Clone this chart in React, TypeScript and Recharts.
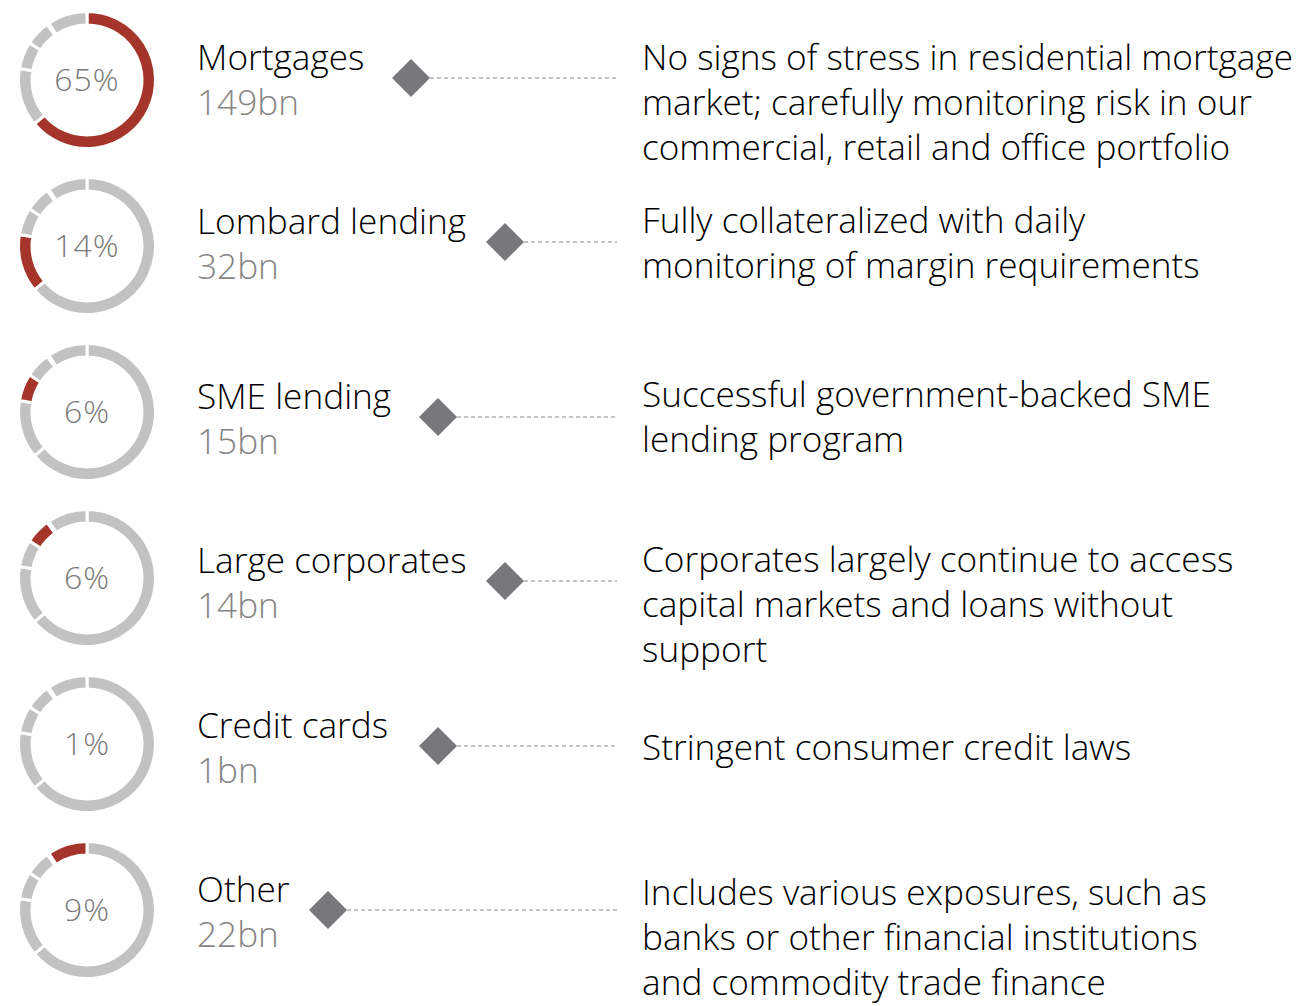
import React from 'react';
import { PieChart, Pie, Cell, Customized } from 'recharts';

const categories = ['Mortgages', 'Lombard lending', 'SME lending', 'Large corporates', 'Credit cards', 'Other'];
const amountsBn = [149, 32, 15, 14, 1, 22];
const sharesPct = [65, 14, 6, 6, 1, 9];
const descriptions = [
  ['No signs of stress in residential mortgage', 'market; carefully monitoring risk in our', 'commercial, retail and office portfolio'],
  ['Fully collateralized with daily', 'monitoring of margin requirements'],
  ['Successful government-backed SME', 'lending program'],
  ['Corporates largely continue to access', 'capital markets and loans without', 'support'],
  ['Stringent consumer credit laws'],
  ['Includes various exposures, such as', 'banks or other financial institutions', 'and commodity trade finance'],
];

const W = 1308;
const H = 1006;
const CX = 87;
const ROW_Y = [80, 246, 412, 578, 744, 910];
const LABEL_Y = [78, 242, 417, 581, 746, 910];
const MARKER_X = [411, 505, 438, 505, 438, 328];
const DESC_Y = [70, 233, 407, 572, 760, 905];
const LINE_END = 617;
const RED = '#a5352a';
const GREY = '#c2c2c2';
const FONT = "'Open Sans', 'Noto Sans', sans-serif";
const FS = 35.2;

const segmentData = categories.map((name, i) => ({ name, value: amountsBn[i] }));

const Annotations = () => (
  <g fontFamily={FONT} fontWeight={300}>
    {ROW_Y.map((cy, row) => {
      const mx = MARKER_X[row];
      const ly = LABEL_Y[row];
      const d = 19;
      return (
        <g key={row}>
          <text x={CX} y={cy + 11} textAnchor="middle" fontSize={32} fill="#7a7a7a" letterSpacing={1}>
            {sharesPct[row]}%
          </text>
          <text x={197} y={ly - 8} fontSize={FS} fill="#000000">{categories[row]}</text>
          <text x={197} y={ly + 37} fontSize={FS} fill="#858585">{amountsBn[row]}bn</text>
          <line x1={mx + d} y1={ly} x2={LINE_END} y2={ly} stroke="#8a8a8a" strokeWidth={1.2} strokeDasharray="4 3" />
          <polygon points={`${mx},${ly - d} ${mx + d},${ly} ${mx},${ly + d} ${mx - d},${ly}`} fill="#77787c" />
          {descriptions[row].map((line, k) => (
            <text key={k} x={642} y={DESC_Y[row] + k * 45} fontSize={FS} fill="#000000">{line}</text>
          ))}
        </g>
      );
    })}
  </g>
);

export default function App() {
  return (
    <div style={{ position: 'absolute', left: 0, top: 0, width: W, height: H, background: '#fff' }}>
      <PieChart width={W} height={H} margin={{ top: 0, right: 0, bottom: 0, left: 0 }}>
        {ROW_Y.map((cy, row) => (
          <Pie
            key={row}
            data={segmentData}
            dataKey="value"
            nameKey="name"
            cx={CX}
            cy={cy}
            innerRadius={55}
            outerRadius={68.5}
            startAngle={90}
            endAngle={-270}
            stroke="#ffffff"
            strokeWidth={3}
            isAnimationActive={false}
          >
            {segmentData.map((s, i) => (
              <Cell key={s.name} fill={i === row ? RED : GREY} />
            ))}
          </Pie>
        ))}
        <Customized component={Annotations} />
      </PieChart>
    </div>
  );
}
